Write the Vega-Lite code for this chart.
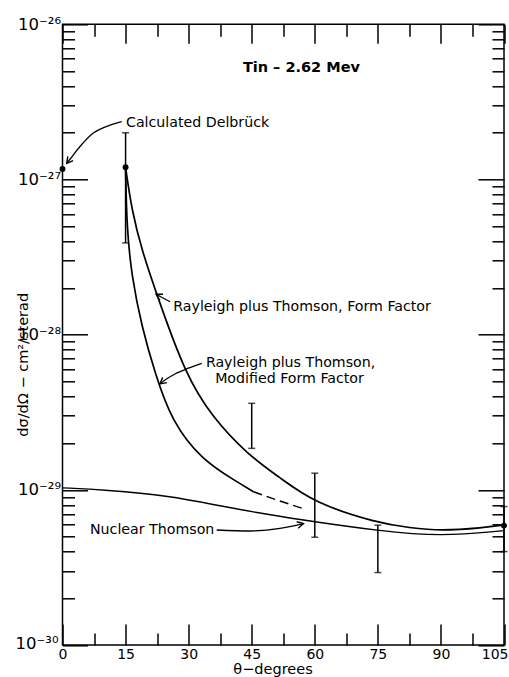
{
  "$schema": "https://vega.github.io/schema/vega-lite/v6.json",
  "width": 441.5,
  "height": 620.7,
  "autosize": {"type": "none"},
  "padding": {"left": 62.5, "top": 24.3, "right": 5, "bottom": 32},
  "background": "white",
  "config": {
    "view": {"stroke": "black", "strokeWidth": 1.5},
    "axis": {"grid": false, "domain": false, "labelFont": "DejaVu Sans", "labelColor": "black", "tickColor": "black", "tickWidth": 1.5, "titleFont": "DejaVu Sans", "titleColor": "black", "titleFontWeight": "normal", "labelOverlap": false, "labelFlush": false}
  },
  "datasets": {
    "ff": [
      {"theta": 15, "sigma": 1.2e-27},
      {"theta": 16.46, "sigma": 6.36e-28},
      {"theta": 18.84, "sigma": 3.51e-28},
      {"theta": 22.78, "sigma": 1.7e-28},
      {"theta": 29.13, "sigma": 5.64e-29},
      {"theta": 35.48, "sigma": 2.96e-29},
      {"theta": 44.1, "sigma": 1.68e-29},
      {"theta": 51.7, "sigma": 1.2e-29},
      {"theta": 59.65, "sigma": 8.28e-30},
      {"theta": 74.8, "sigma": 6.12e-30},
      {"theta": 82.6, "sigma": 5.69e-30},
      {"theta": 90, "sigma": 5.44e-30},
      {"theta": 100, "sigma": 5.69e-30},
      {"theta": 105, "sigma": 5.94e-30}
    ],
    "mff": [
      {"theta": 15, "sigma": 1.2e-27},
      {"theta": 15.27, "sigma": 4.97e-28},
      {"theta": 16.46, "sigma": 2.36e-28},
      {"theta": 18.84, "sigma": 1.13e-28},
      {"theta": 22.0, "sigma": 5.64e-29},
      {"theta": 26.0, "sigma": 2.75e-29},
      {"theta": 33.1, "sigma": 1.56e-29},
      {"theta": 41.4, "sigma": 1.13e-29},
      {"theta": 45.4, "sigma": 9.73e-30}
    ],
    "mffDashed": [
      {"theta": 45.4, "sigma": 9.73e-30},
      {"theta": 51.7, "sigma": 8.47e-30},
      {"theta": 57.7, "sigma": 7.5e-30}
    ],
    "nt": [
      {"theta": 0, "sigma": 1.03e-29},
      {"theta": 10, "sigma": 1.0e-29},
      {"theta": 25.6, "sigma": 9.14e-30},
      {"theta": 37.46, "sigma": 7.87e-30},
      {"theta": 49.35, "sigma": 6.89e-30},
      {"theta": 59.65, "sigma": 6.24e-30},
      {"theta": 74.9, "sigma": 5.46e-30},
      {"theta": 89.95, "sigma": 4.99e-30},
      {"theta": 105, "sigma": 5.46e-30}
    ],
    "err": [
      {"theta": 15, "lo": 3.9e-28, "hi": 2.0e-27},
      {"theta": 45, "lo": 1.85e-29, "hi": 3.61e-29},
      {"theta": 60, "lo": 4.95e-30, "hi": 1.28e-29},
      {"theta": 75, "lo": 2.93e-30, "hi": 5.92e-30},
      {"theta": 105, "lo": 4.0e-30, "hi": 7.8e-30}
    ],
    "pts": [
      {"theta": 0, "sigma": 1.17e-27},
      {"theta": 15, "sigma": 1.2e-27},
      {"theta": 105, "sigma": 5.88e-30}
    ],
    "arrows": [
      {"arrow": "delbruck", "theta": 14.08, "sigma": 2.36e-27},
      {"arrow": "delbruck", "theta": 11.3, "sigma": 2.24e-27},
      {"arrow": "delbruck", "theta": 7.33, "sigma": 1.99e-27},
      {"arrow": "delbruck", "theta": 4.16, "sigma": 1.63e-27},
      {"arrow": "delbruck", "theta": 1.78, "sigma": 1.35e-27},
      {"arrow": "delbruck", "theta": 1.0, "sigma": 1.27e-27},
      {"arrow": "ff", "theta": 25.57, "sigma": 1.63e-28},
      {"arrow": "ff", "theta": 22.24, "sigma": 1.82e-28},
      {"arrow": "mff", "theta": 33.1, "sigma": 6.54e-29},
      {"arrow": "mff", "theta": 29.92, "sigma": 6.08e-29},
      {"arrow": "mff", "theta": 26.75, "sigma": 5.58e-29},
      {"arrow": "mff", "theta": 24.38, "sigma": 5.1e-29},
      {"arrow": "mff", "theta": 23.19, "sigma": 4.82e-29},
      {"arrow": "nt", "theta": 36.67, "sigma": 5.51e-30},
      {"arrow": "nt", "theta": 44.59, "sigma": 5.43e-30},
      {"arrow": "nt", "theta": 51.73, "sigma": 5.64e-30},
      {"arrow": "nt", "theta": 57.3, "sigma": 6.05e-30}
    ],
    "headDelbruck": [{"theta": 1.0, "sigma": 1.27e-27}],
    "headFF": [{"theta": 22.24, "sigma": 1.82e-28}],
    "headMFF": [{"theta": 23.19, "sigma": 4.82e-29}],
    "headNT": [{"theta": 57.3, "sigma": 6.05e-30}],
    "notes": [
      {"theta": 15.1, "sigma": 2.31e-27, "label": "Calculated Delbrück"},
      {"theta": 26.35, "sigma": 1.5e-28, "label": "Rayleigh plus Thomson, Form Factor"},
      {"theta": 34.1, "sigma": 6.54e-29, "label": "Rayleigh plus Thomson,"},
      {"theta": 36.3, "sigma": 5.15e-29, "label": "Modified Form Factor"},
      {"theta": 6.54, "sigma": 5.52e-30, "label": "Nuclear Thomson"}
    ],
    "heading": [
      {"theta": 42.9, "sigma": 5.25e-27, "label": "Tin – 2.62 Mev"}
    ]
  },
  "resolve": {"axis": {"x": "independent", "y": "independent"}},
  "layer": [
    {
      "data": {"name": "ff"},
      "mark": {"type": "line", "color": "black", "strokeWidth": 1.7, "interpolate": "basis"},
      "encoding": {
        "x": {"field": "theta", "type": "quantitative", "scale": {"domain": [0, 105], "nice": false, "zero": false},
          "axis": {"orient": "bottom", "values": [0, 15, 30, 45, 60, 75, 90, 105], "ticks": false, "labelFontSize": 14, "labelPadding": 2,
            "labelAlign": {"condition": {"test": "datum.value == 105", "value": "right"}, "value": "center"},
            "labelOffset": {"condition": {"test": "datum.value == 105", "value": 4}, "value": 0},
            "title": "θ−degrees", "titleFontSize": 14.5, "titleX": 210, "titleY": 24, "titleBaseline": "middle"}},
        "y": {"field": "sigma", "type": "quantitative", "scale": {"type": "log", "domain": [1e-30, 1e-26], "nice": false},
          "axis": {"orient": "left", "values": [1e-30, 1e-29, 1e-28, 1e-27, 1e-26], "ticks": false, "labelFontSize": 16.5, "labelBaseline": "middle",
            "labelPadding": {"condition": {"test": "datum.value < 5e-30", "value": 4.5}, "value": 2},
            "labelOffset": {"condition": {"test": "datum.value < 5e-30", "value": -2}, "value": 0},
            "labelExpr": "datum.value < 5e-30 ? '10⁻³⁰' : datum.value < 5e-29 ? '10⁻²⁹' : datum.value < 5e-28 ? '10⁻²⁸' : datum.value < 5e-27 ? '10⁻²⁷' : '10⁻²⁶'",
            "title": "dσ/dΩ − cm²/sterad", "titleFontSize": 14.5, "titleX": -39, "titleY": 340, "titleBaseline": "middle", "titleAngle": -90}}
      }
    },
    {
      "data": {"name": "mff"},
      "mark": {"type": "line", "color": "black", "strokeWidth": 1.7, "interpolate": "basis"},
      "encoding": {
        "x": {"field": "theta", "type": "quantitative", "scale": {"domain": [0, 105], "nice": false, "zero": false},
          "axis": {"orient": "bottom", "values": [0, 15, 30, 45, 60, 75, 90, 105], "labels": false, "tickSize": -21, "title": null}},
        "y": {"field": "sigma", "type": "quantitative", "scale": {"type": "log", "domain": [1e-30, 1e-26], "nice": false},
          "axis": {"orient": "left", "values": [1e-30, 1e-29, 1e-28, 1e-27, 1e-26], "labels": false, "tickSize": -25, "title": null}}
      }
    },
    {
      "data": {"name": "mffDashed"},
      "mark": {"type": "line", "color": "black", "strokeWidth": 1.5, "strokeDash": [9, 5], "interpolate": "monotone"},
      "encoding": {
        "x": {"field": "theta", "type": "quantitative", "scale": {"domain": [0, 105], "nice": false, "zero": false},
          "axis": {"orient": "bottom", "values": [7.5, 22.5, 37.5, 52.5, 67.5, 82.5, 97.5], "labels": false, "tickSize": -12, "title": null}},
        "y": {"field": "sigma", "type": "quantitative", "scale": {"type": "log", "domain": [1e-30, 1e-26], "nice": false},
          "axis": {"orient": "left", "values": [2e-30, 3e-30, 4e-30, 5e-30, 6e-30, 7e-30, 8e-30, 9e-30, 2e-29, 3e-29, 4e-29, 5e-29, 6e-29, 7e-29, 8e-29, 9e-29, 2e-28, 3e-28, 4e-28, 5e-28, 6e-28, 7e-28, 8e-28, 9e-28, 2e-27, 3e-27, 4e-27, 5e-27, 6e-27, 7e-27, 8e-27, 9e-27], "labels": false, "tickSize": -12, "title": null}}
      }
    },
    {
      "data": {"name": "nt"},
      "mark": {"type": "line", "color": "black", "strokeWidth": 1.4, "interpolate": "basis"},
      "encoding": {
        "x": {"field": "theta", "type": "quantitative", "scale": {"domain": [0, 105], "nice": false, "zero": false},
          "axis": {"orient": "top", "values": [0, 15, 30, 45, 60, 75, 90, 105], "labels": false, "tickSize": -19, "title": null}},
        "y": {"field": "sigma", "type": "quantitative", "scale": {"type": "log", "domain": [1e-30, 1e-26], "nice": false},
          "axis": {"orient": "right", "values": [1e-30, 1e-29, 1e-28, 1e-27, 1e-26], "labels": false, "tickSize": -26, "title": null}}
      }
    },
    {
      "data": {"name": "err"},
      "mark": {"type": "rule", "color": "black", "strokeWidth": 1.5},
      "encoding": {
        "x": {"field": "theta", "type": "quantitative", "scale": {"domain": [0, 105], "nice": false, "zero": false},
          "axis": {"orient": "top", "values": [7.5, 22.5, 37.5, 52.5, 67.5, 82.5, 97.5], "labels": false, "tickSize": -12, "title": null}},
        "y": {"field": "lo", "type": "quantitative", "scale": {"type": "log", "domain": [1e-30, 1e-26], "nice": false},
          "axis": {"orient": "right", "values": [2e-30, 3e-30, 4e-30, 5e-30, 6e-30, 7e-30, 8e-30, 9e-30, 2e-29, 3e-29, 4e-29, 5e-29, 6e-29, 7e-29, 8e-29, 9e-29, 2e-28, 3e-28, 4e-28, 5e-28, 6e-28, 7e-28, 8e-28, 9e-28, 2e-27, 3e-27, 4e-27, 5e-27, 6e-27, 7e-27, 8e-27, 9e-27], "labels": false, "tickSize": -12, "title": null}},
        "y2": {"field": "hi"}
      }
    },
    {
      "data": {"name": "err"},
      "mark": {"type": "tick", "orient": "horizontal", "color": "black", "size": 7, "thickness": 1.5},
      "encoding": {
        "x": {"field": "theta", "type": "quantitative", "scale": {"domain": [0, 105], "nice": false, "zero": false}, "axis": null},
        "y": {"field": "lo", "type": "quantitative", "scale": {"type": "log", "domain": [1e-30, 1e-26], "nice": false}, "axis": null}
      }
    },
    {
      "data": {"name": "err"},
      "mark": {"type": "tick", "orient": "horizontal", "color": "black", "size": 7, "thickness": 1.5},
      "encoding": {
        "x": {"field": "theta", "type": "quantitative", "scale": {"domain": [0, 105], "nice": false, "zero": false}, "axis": null},
        "y": {"field": "hi", "type": "quantitative", "scale": {"type": "log", "domain": [1e-30, 1e-26], "nice": false}, "axis": null}
      }
    },
    {
      "data": {"name": "pts"},
      "mark": {"type": "point", "filled": true, "color": "black", "opacity": 1, "size": 35, "shape": "circle"},
      "encoding": {
        "x": {"field": "theta", "type": "quantitative", "scale": {"domain": [0, 105], "nice": false, "zero": false}, "axis": null},
        "y": {"field": "sigma", "type": "quantitative", "scale": {"type": "log", "domain": [1e-30, 1e-26], "nice": false}, "axis": null}
      }
    },
    {
      "data": {"name": "arrows"},
      "mark": {"type": "line", "color": "black", "strokeWidth": 1.3, "interpolate": "monotone"},
      "encoding": {
        "x": {"field": "theta", "type": "quantitative", "scale": {"domain": [0, 105], "nice": false, "zero": false}, "axis": null},
        "y": {"field": "sigma", "type": "quantitative", "scale": {"type": "log", "domain": [1e-30, 1e-26], "nice": false}, "axis": null},
        "detail": {"field": "arrow", "type": "nominal"}
      }
    },
    {
      "data": {"name": "headDelbruck"},
      "mark": {"type": "point", "shape": "M-1,-0.55L0,0L-1,0.55", "filled": false, "color": "black", "strokeWidth": 1.4, "opacity": 1, "size": 150, "angle": 128},
      "encoding": {
        "x": {"field": "theta", "type": "quantitative", "scale": {"domain": [0, 105], "nice": false, "zero": false}, "axis": null},
        "y": {"field": "sigma", "type": "quantitative", "scale": {"type": "log", "domain": [1e-30, 1e-26], "nice": false}, "axis": null}
      }
    },
    {
      "data": {"name": "headFF"},
      "mark": {"type": "point", "shape": "M-1,-0.55L0,0L-1,0.55", "filled": false, "color": "black", "strokeWidth": 1.4, "opacity": 1, "size": 150, "angle": 208},
      "encoding": {
        "x": {"field": "theta", "type": "quantitative", "scale": {"domain": [0, 105], "nice": false, "zero": false}, "axis": null},
        "y": {"field": "sigma", "type": "quantitative", "scale": {"type": "log", "domain": [1e-30, 1e-26], "nice": false}, "axis": null}
      }
    },
    {
      "data": {"name": "headMFF"},
      "mark": {"type": "point", "shape": "M-1,-0.55L0,0L-1,0.55", "filled": false, "color": "black", "strokeWidth": 1.4, "opacity": 1, "size": 150, "angle": 141},
      "encoding": {
        "x": {"field": "theta", "type": "quantitative", "scale": {"domain": [0, 105], "nice": false, "zero": false}, "axis": null},
        "y": {"field": "sigma", "type": "quantitative", "scale": {"type": "log", "domain": [1e-30, 1e-26], "nice": false}, "axis": null}
      }
    },
    {
      "data": {"name": "headNT"},
      "mark": {"type": "point", "shape": "M-1,-0.55L0,0L-1,0.55", "filled": false, "color": "black", "strokeWidth": 1.4, "opacity": 1, "size": 150, "angle": -13},
      "encoding": {
        "x": {"field": "theta", "type": "quantitative", "scale": {"domain": [0, 105], "nice": false, "zero": false}, "axis": null},
        "y": {"field": "sigma", "type": "quantitative", "scale": {"type": "log", "domain": [1e-30, 1e-26], "nice": false}, "axis": null}
      }
    },
    {
      "data": {"name": "notes"},
      "mark": {"type": "text", "align": "left", "baseline": "middle", "font": "DejaVu Sans", "fontSize": 14.2, "color": "black"},
      "encoding": {
        "x": {"field": "theta", "type": "quantitative", "scale": {"domain": [0, 105], "nice": false, "zero": false}, "axis": null},
        "y": {"field": "sigma", "type": "quantitative", "scale": {"type": "log", "domain": [1e-30, 1e-26], "nice": false}, "axis": null},
        "text": {"field": "label", "type": "nominal"}
      }
    },
    {
      "data": {"name": "heading"},
      "mark": {"type": "text", "align": "left", "baseline": "middle", "font": "DejaVu Sans", "fontSize": 14.5, "fontWeight": "bold", "color": "black"},
      "encoding": {
        "x": {"field": "theta", "type": "quantitative", "scale": {"domain": [0, 105], "nice": false, "zero": false}, "axis": null},
        "y": {"field": "sigma", "type": "quantitative", "scale": {"type": "log", "domain": [1e-30, 1e-26], "nice": false}, "axis": null},
        "text": {"field": "label", "type": "nominal"}
      }
    }
  ]
}
